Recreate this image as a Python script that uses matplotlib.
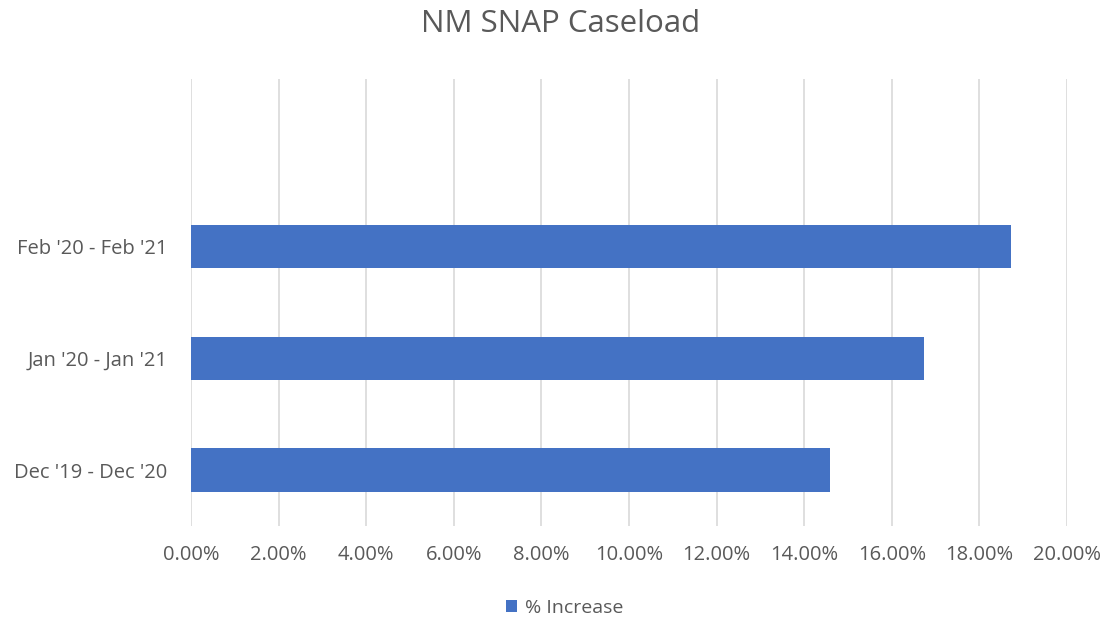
import matplotlib
matplotlib.use("Agg")
import matplotlib.pyplot as plt
from matplotlib.ticker import FuncFormatter, MultipleLocator

categories = ["Dec '19 - Dec '20", "Jan '20 - Jan '21", "Feb '20 - Feb '21"]
pct_increase = [14.60, 16.73, 18.71]
series_name = "% Increase"

plt.rcParams['font.family'] = ['Open Sans', 'DejaVu Sans']
txt = '#595959'

fig = plt.figure(figsize=(11.07, 6.19), dpi=100)
ax = fig.add_axes([0.1725, 0.1502, 0.7914, 0.7222])

ax.barh(range(len(categories)), pct_increase, height=0.39, color='#4472C4',
        label=series_name, zorder=3)

ax.set_xlim(0, 20)
# Excel left an empty slot above the top bar
ax.set_ylim(-0.5, len(categories) + 0.5)
ax.xaxis.set_major_locator(MultipleLocator(2))
ax.xaxis.set_major_formatter(FuncFormatter(lambda v, p: "%.2f%%" % v))
ax.set_yticks(range(len(categories)))
ax.set_yticklabels(categories)
ax.grid(axis='x', color='#D9D9D9', linewidth=1.2, zorder=0)
for s in ax.spines.values():
    s.set_visible(False)
ax.tick_params(length=0, colors=txt, labelsize=14.5)
ax.tick_params(axis='x', pad=14)
ax.tick_params(axis='y', pad=17)

fig.text(0.506, 0.962, "NM SNAP Caseload", ha='center', va='center',
         fontsize=22.5, color=txt)
fig.legend(loc='center', bbox_to_anchor=(0.51, 0.018), frameon=False,
           fontsize=14, labelcolor=txt, handlelength=0.55, handleheight=0.55,
           handletextpad=0.4)

fig.savefig("out.png", dpi=100)
